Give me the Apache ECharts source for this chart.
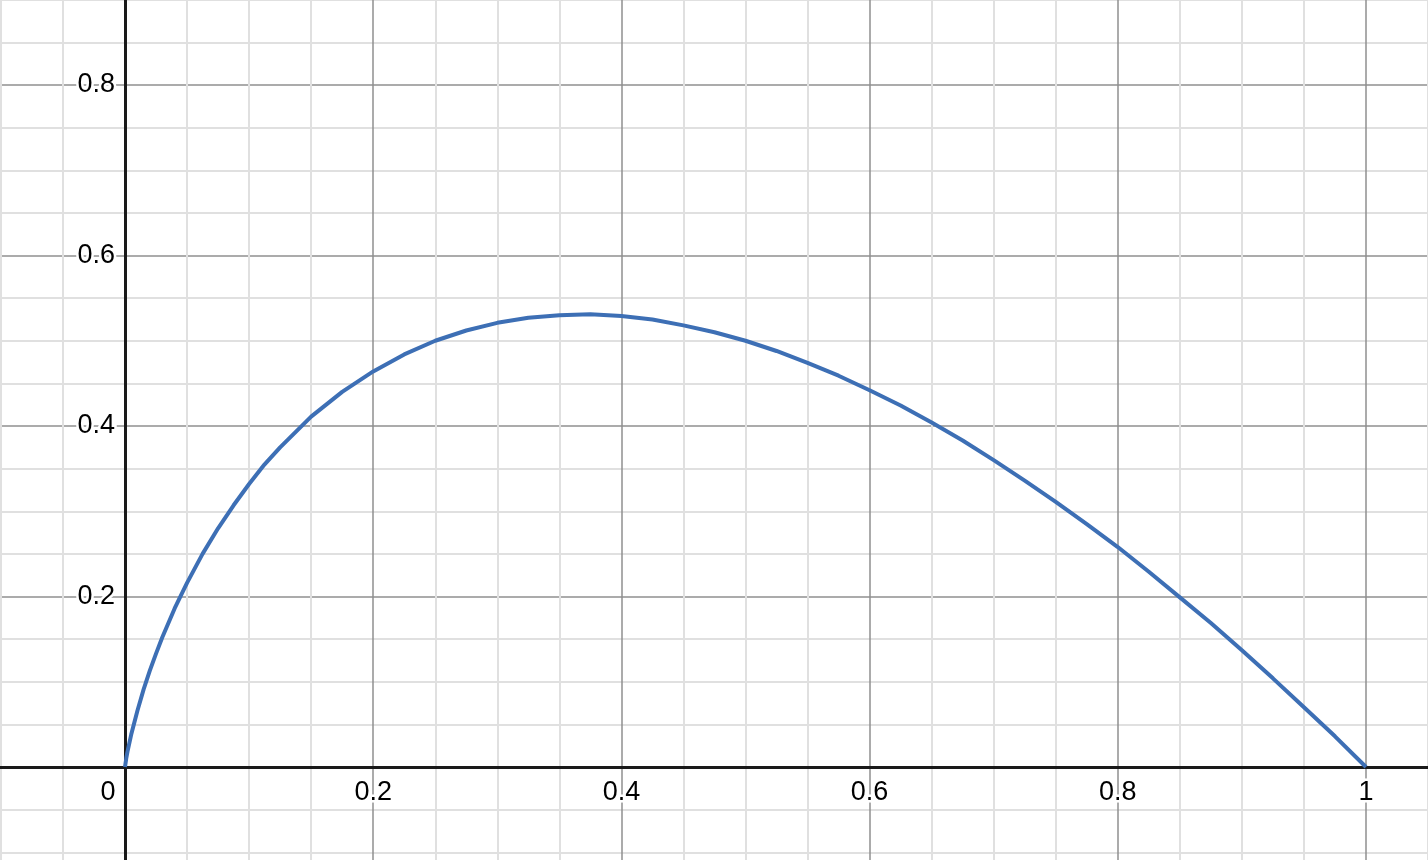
<!DOCTYPE html>
<html>
<head>
<meta charset="utf-8">
<script src="https://cdn.jsdelivr.net/npm/echarts@6/dist/echarts.min.js"></script>
<style>
html,body{margin:0;padding:0;background:#fff;}
#chart{width:1428px;height:860px;}
</style>
</head>
<body>
<div id="chart"></div>
<script>
// Values
const xValues = [0, 0.001, 0.002, 0.005, 0.01, 0.015, 0.02, 0.025, 0.03, 0.04, 0.05, 0.0625, 0.075, 0.0875, 0.1, 0.1125, 0.125, 0.15, 0.175, 0.2, 0.225, 0.25, 0.275, 0.3, 0.325, 0.35, 0.375, 0.4, 0.425, 0.45, 0.475, 0.5, 0.525, 0.55, 0.575, 0.6, 0.625, 0.65, 0.675, 0.7, 0.725, 0.75, 0.775, 0.8, 0.825, 0.85, 0.875, 0.9, 0.925, 0.95, 0.975, 1];
const yValues = [0, 0.010, 0.018, 0.038, 0.066, 0.091, 0.113, 0.133, 0.152, 0.186, 0.216, 0.250, 0.280, 0.307, 0.332, 0.355, 0.375, 0.411, 0.440, 0.464, 0.484, 0.500, 0.512, 0.521, 0.527, 0.530, 0.531, 0.529, 0.525, 0.518, 0.510, 0.500, 0.488, 0.474, 0.459, 0.442, 0.424, 0.404, 0.383, 0.360, 0.336, 0.311, 0.285, 0.258, 0.229, 0.199, 0.169, 0.137, 0.104, 0.070, 0.036, 0];
const xTickValues = [0, 0.2, 0.4, 0.6, 0.8, 1];
const yTickValues = [0.2, 0.4, 0.6, 0.8];

const chart = echarts.init(document.getElementById('chart'), null, {renderer: 'canvas'});
const labelFont = {
  color: '#000',
  fontFamily: 'Liberation Sans, Arial, sans-serif',
  fontSize: 27,
  textBorderColor: '#fff',
  textBorderWidth: 5
};
function near(v, list) {
  return list.some(t => Math.abs(t - v) < 1e-6);
}
const X_MIN = -0.2, X_MAX = 1.2, Y_MIN = -0.2, Y_MAX = 1.0, STEP = 0.2;
const hiddenAxis = (gi, min, max) => ({type: 'value', gridIndex: gi, min: min, max: max, interval: STEP, show: false});
chart.setOption({
  animation: false,
  backgroundColor: '#fff',
  grid: [
    {left: -123.2, right: -186.2, top: -85.5, bottom: -77.5, containLabel: false, outerBoundsMode: 'none'},
    {left: -123.2, right: -186.2, top: 0, bottom: 93, containLabel: false, outerBoundsMode: 'none'},
    {left: 125, right: 0, top: -85.5, bottom: -77.5, containLabel: false, outerBoundsMode: 'none'}
  ],
  xAxis: [{
    type: 'value', gridIndex: 0, min: X_MIN, max: X_MAX, interval: STEP,
    axisLine: {onZero: true, lineStyle: {color: '#1a1a1a', width: 3}},
    axisTick: {show: false},
    axisLabel: {show: false},
    splitLine: {show: true, lineStyle: {color: '#8f8f8f', width: 1.5}},
    minorTick: {show: false, splitNumber: 4},
    minorSplitLine: {show: true, lineStyle: {color: '#e0e0e0', width: 2}}
  }, {
    type: 'value', gridIndex: 1, position: 'bottom', min: X_MIN, max: X_MAX, interval: STEP,
    axisLine: {show: false}, axisTick: {show: false}, splitLine: {show: false},
    axisLabel: Object.assign({
      margin: 12,
      formatter: function (v) {
        if (!near(v, xTickValues)) return '';
        if (Math.abs(v) < 1e-9) return '{z|0}';
        return String(Math.round(v * 10) / 10);
      },
      rich: {z: Object.assign({padding: [0, 34, 0, 0]}, labelFont)}
    }, labelFont),
    z: 10
  }, hiddenAxis(2, X_MIN, X_MAX)],
  yAxis: [{
    type: 'value', gridIndex: 0, min: Y_MIN, max: Y_MAX, interval: STEP,
    axisLine: {onZero: true, lineStyle: {color: '#1a1a1a', width: 3}},
    axisTick: {show: false},
    axisLabel: {show: false},
    splitLine: {show: true, lineStyle: {color: '#8f8f8f', width: 1.5}},
    minorTick: {show: false, splitNumber: 4},
    minorSplitLine: {show: true, lineStyle: {color: '#e0e0e0', width: 2}}
  }, hiddenAxis(1, Y_MIN, Y_MAX), {
    type: 'value', gridIndex: 2, position: 'left', min: Y_MIN, max: Y_MAX, interval: STEP,
    axisLine: {show: false}, axisTick: {show: false}, splitLine: {show: false},
    axisLabel: Object.assign({
      margin: 10,
      formatter: function (v) {
        if (!near(v, yTickValues)) return '';
        return String(Math.round(v * 10) / 10);
      }
    }, labelFont),
    z: 10
  }],
  series: [{
    type: 'line',
    xAxisIndex: 0, yAxisIndex: 0,
    data: xValues.map((x, i) => [x, yValues[i]]),
    showSymbol: false,
    smooth: false,
    lineStyle: {color: '#3d6fb5', width: 4},
    z: 5
  }]
});
</script>
</body>
</html>
